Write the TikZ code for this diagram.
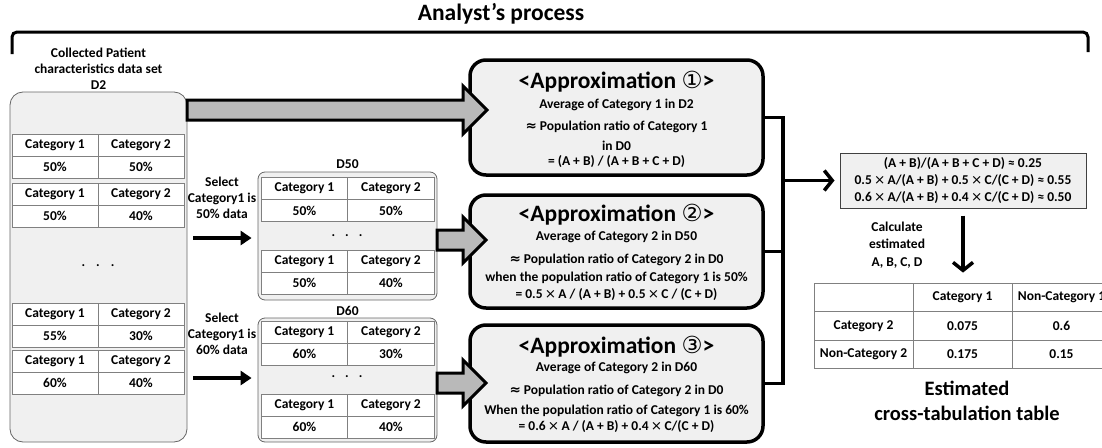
\documentclass[tikz,border=0pt]{standalone}
\usepackage{fontspec}
\setmainfont{Carlito}
\newfontfamily\circfont{DejaVu Sans}
\usetikzlibrary{arrows.meta}

\newcommand{\tms}{{\circfont\mdseries\,×\,}}
\newcommand{\apx}{{\circfont\bfseries ≈}}

\begin{document}
\begin{tikzpicture}[x=1pt,y=-1pt,
  lbl/.style={font=\fontsize{13.5}{16}\selectfont\bfseries, inner sep=0pt},
  bigtitle/.style={font=\fontsize{23.5}{28}\selectfont\bfseries, inner sep=0pt},
  holder/.style={draw=black!60, fill=gray!12, line width=0.8pt},
  cellbox/.style={lbl, draw=black!50, fill=white, line width=0.8pt, minimum width=86, minimum height=22},
  crosscell/.style={lbl, draw=black!50, fill=white, line width=0.8pt, minimum width=99, minimum height=28.5},
  approxbox/.style={draw=black, fill=gray!12, line width=3.5pt, rounded corners=16, minimum width=293},
  blockarrow/.style={draw=black, fill=gray!55, line width=3pt, line join=miter},
  thickline/.style={line width=3.5pt},
  selarrow/.style={line width=4pt, -{Triangle[length=11pt, width=14pt]}},
  chevarrow/.style={line width=3.5pt, -{Straight Barb[length=8pt, width=20pt]}}
]
\useasboundingbox (0,0) rectangle (1102,447);

% title and bracket
\node[bigtitle] (title) at (501,14) {Analyst’s process};
\draw[line width=3pt, rounded corners=5] (12,54) -- (12,32) -- (1088,32) -- (1088,52);

% collected data set D2
\node[lbl, align=center] (dtwo-label) at (98.5,69) {Collected Patient\\characteristics data set\\D2};
\node[holder, rounded corners=13, minimum width=177, minimum height=350] (dtwo) at (98.5,267) {};
\node[cellbox] (t1c1) at (55,145) {Category 1};
\node[cellbox] (t1c2) at (141,145) {Category 2};
\node[cellbox] (t1v1) at (55,167) {50\%};
\node[cellbox] (t1v2) at (141,167) {50\%};
\node[cellbox] (t2c1) at (55,194) {Category 1};
\node[cellbox] (t2c2) at (141,194) {Category 2};
\node[cellbox] (t2v1) at (55,216) {50\%};
\node[cellbox] (t2v2) at (141,216) {40\%};
\node[lbl] (dtwo-dots) at (98,266) {.\hspace{11pt}.\hspace{11pt}.};
\node[cellbox] (t3c1) at (55,314) {Category 1};
\node[cellbox] (t3c2) at (141,314) {Category 2};
\node[cellbox] (t3v1) at (55,336) {55\%};
\node[cellbox] (t3v2) at (141,336) {30\%};
\node[cellbox] (t4c1) at (55,361) {Category 1};
\node[cellbox] (t4c2) at (141,361) {Category 2};
\node[cellbox] (t4v1) at (55,383) {60\%};
\node[cellbox] (t4v2) at (141,383) {40\%};

% selected subsets D50 and D60
\node[lbl] (dfifty-label) at (347.5,164) {D50};
\node[holder, rounded corners=7, minimum width=179, minimum height=128] (dfifty) at (347.5,236) {};
\node[cellbox, minimum width=87] (f1c1) at (304.5,188.5) {Category 1};
\node[cellbox, minimum width=87] (f1c2) at (391,188.5) {Category 2};
\node[cellbox, minimum width=87] (f1v1) at (304.5,210.5) {50\%};
\node[cellbox, minimum width=87] (f1v2) at (391,210.5) {50\%};
\node[lbl] (dfifty-dots) at (347,236) {.\hspace{10pt}.\hspace{10pt}.};
\node[cellbox, minimum width=87] (f2c1) at (304.5,261) {Category 1};
\node[cellbox, minimum width=87] (f2c2) at (391,261) {Category 2};
\node[cellbox, minimum width=87] (f2v1) at (304.5,283) {50\%};
\node[cellbox, minimum width=87] (f2v2) at (391,283) {40\%};

\node[lbl] (dsixty-label) at (347.5,311) {D60};
\node[holder, rounded corners=7, minimum width=179, minimum height=124] (dsixty) at (347.5,380) {};
\node[cellbox, minimum width=87] (s1c1) at (304.5,332) {Category 1};
\node[cellbox, minimum width=87] (s1c2) at (391,332) {Category 2};
\node[cellbox, minimum width=87] (s1v1) at (304.5,354) {60\%};
\node[cellbox, minimum width=87] (s1v2) at (391,354) {30\%};
\node[lbl] (dsixty-dots) at (347,377) {.\hspace{10pt}.\hspace{10pt}.};
\node[cellbox, minimum width=87] (s2c1) at (304.5,405) {Category 1};
\node[cellbox, minimum width=87] (s2c2) at (391,405) {Category 2};
\node[cellbox, minimum width=87] (s2v1) at (304.5,427) {60\%};
\node[cellbox, minimum width=87] (s2v2) at (391,427) {40\%};

% selection arrows
\node[lbl, align=center] (selA) at (222,198) {Select\\Category1 is\\50\% data};
\node[lbl, align=center] (selB) at (222,334) {Select\\Category1 is\\60\% data};
\coordinate (selA-start) at (193,238);
\coordinate (selB-start) at (193,378);
\draw[selarrow, shorten >=6pt] (selA-start) -- (selA-start -| dfifty.west);
\draw[selarrow, shorten >=6pt] (selB-start) -- (selB-start -| dsixty.west);

% approximation boxes
\node[approxbox, minimum height=115] (apA) at (616.5,117.5) {};
\node[approxbox, minimum height=113] (apB) at (616.5,251.5) {};
\node[approxbox, minimum height=117] (apC) at (616.5,383.5) {};

% block arrows into the boxes
\draw[blockarrow] (187,100) -- (463,100) -- (463,86) -- (487,110) -- (463,134) -- (463,120) -- (187,120) -- cycle;
\draw[blockarrow] (437,230) -- (463,230) -- (463,217) -- (486,240) -- (463,263) -- (463,250) -- (437,250) -- cycle;
\draw[blockarrow] (437,373) -- (463,373) -- (463,360) -- (486,383) -- (463,406) -- (463,393) -- (437,393) -- cycle;

\node[bigtitle] (apA-t0) at (616.5,82) {<Approximation {\circfont\mdseries ①}>};
\node[lbl] (apA-t1) at (616.5,105) {Average of Category 1 in D2};
\node[lbl] (apA-t2) at (616.5,127) {\apx\ Population ratio of Category 1};
\node[lbl] (apA-t3) at (616.5,146) {in D0};
\node[lbl] (apA-t4) at (616.5,162) {= (A + B) / (A + B + C + D)};

\node[bigtitle] (apB-t0) at (616.5,215) {<Approximation {\circfont\mdseries ②}>};
\node[lbl] (apB-t1) at (616.5,237) {Average of Category 2 in D50};
\node[lbl] (apB-t2) at (616.5,260) {\apx\ Population ratio of Category 2 in D0};
\node[lbl] (apB-t3) at (616.5,278) {when the population ratio of  Category 1 is 50\%};
\node[lbl] (apB-t4) at (616.5,295) {= 0.5\tms A / (A + B) + 0.5\tms C / (C + D)};

\node[bigtitle] (apC-t0) at (616.5,347) {<Approximation {\circfont\mdseries ③}>};
\node[lbl] (apC-t1) at (616.5,368) {Average of Category 2 in D60};
\node[lbl] (apC-t2) at (616.5,391) {\apx\ Population ratio of Category 2 in D0};
\node[lbl] (apC-t3) at (616.5,411) {When the population ratio of Category 1 is 60\%};
\node[lbl] (apC-t4) at (616.5,427) {= 0.6\tms A / (A + B) + 0.4\tms C/(C + D)};

% joining the three results
\node[lbl, draw=black!75, fill=gray!12, line width=1pt, minimum width=246, minimum height=55,
  align=center, font=\fontsize{13.5}{17}\selectfont\bfseries] (result) at (963,180.5)
  {(A + B)/(A + B + C + D) ≈ 0.25\\
   0.5\tms A/(A + B) + 0.5\tms C/(C + D) ≈ 0.55\\
   0.6\tms A/(A + B) + 0.4\tms C/(C + D) ≈ 0.50};
\coordinate (bus) at (783,180.5);
\draw[thickline] (apA.east) -- (apA.east -| bus) -- (apC.east -| bus) -- (apC.east);
\draw[thickline] (apB.east) -- (apB.east -| bus);
\draw[chevarrow, shorten >=5pt] (bus) -- (result.west);

% estimated cross table
\node[lbl, align=center, font=\fontsize{13.5}{17.5}\selectfont\bfseries] (calc) at (897,245) {Calculate\\estimated\\A, B, C, D};
\node[crosscell] (ct11) at (863.5,297.25) {};
\node[crosscell] (ct12) at (962.5,297.25) {Category 1};
\node[crosscell] (ct13) at (1061.5,297.25) {Non-Category 1};
\node[crosscell] (ct21) at (863.5,325.75) {Category 2};
\node[crosscell] (ct22) at (962.5,325.75) {0.075};
\node[crosscell] (ct23) at (1061.5,325.75) {0.6};
\node[crosscell] (ct31) at (863.5,354.25) {Non-Category 2};
\node[crosscell] (ct32) at (962.5,354.25) {0.175};
\node[crosscell] (ct33) at (1061.5,354.25) {0.15};
\draw[chevarrow, shorten <=7pt, shorten >=10pt] (result.south) -- (result.south |- ct12.north);
\node[font=\fontsize{20.5}{25}\selectfont\bfseries, inner sep=0pt, align=center] (ct-caption) at (967,400.5) {Estimated\\cross-tabulation table};
\end{tikzpicture}
\end{document}
